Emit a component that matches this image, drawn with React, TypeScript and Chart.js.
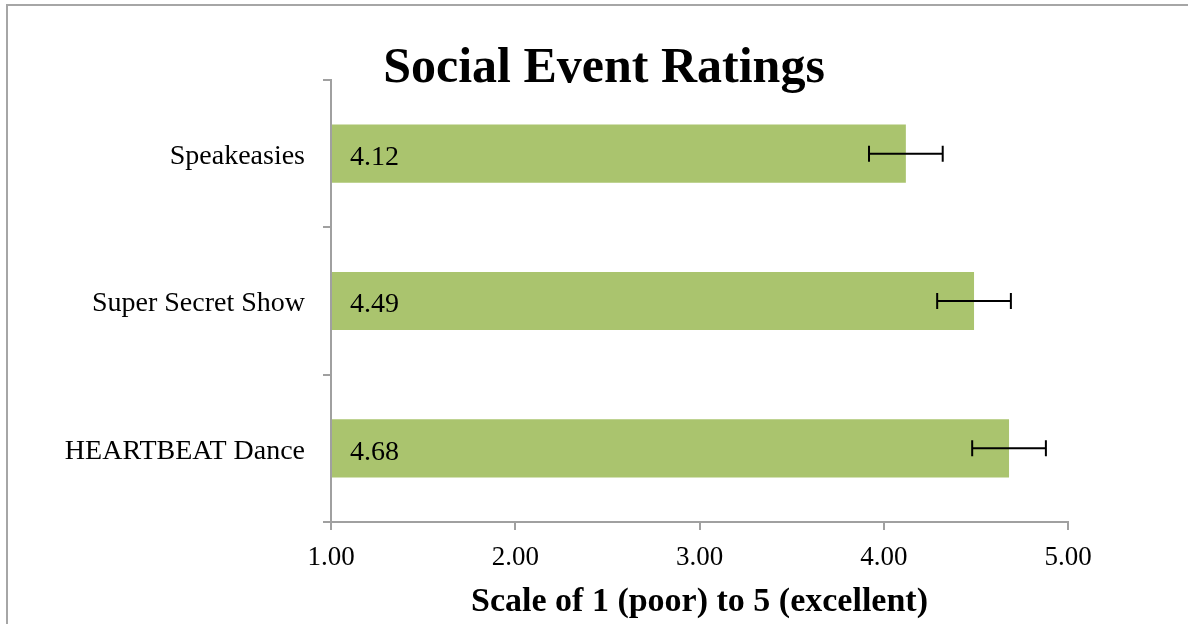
import React, { useEffect, useRef } from "react";
import { Chart, registerables } from "chart.js";

Chart.register(...registerables);

const categories = ["Speakeasies", "Super Secret Show", "HEARTBEAT Dance"];
const ratings = [4.12, 4.49, 4.68];
const errors = [0.2, 0.2, 0.2];
const xTicks = [1, 2, 3, 4, 5];
const titleText = "Social Event Ratings";
const xTitleText = "Scale of 1 (poor) to 5 (excellent)";

const SERIF = "'Liberation Serif', 'DejaVu Serif', serif";
const AXIS_GRAY = "#a0a0a0";
const BAR_GREEN = "#aac46e";

const decorPlugin = {
  id: "decor",
  beforeDraw(chart: any) {
    const ctx = chart.ctx;
    ctx.save();
    ctx.fillStyle = "#ffffff";
    ctx.fillRect(0, 0, chart.width, chart.height);
    ctx.fillStyle = "#a6a6a6";
    ctx.fillRect(6, 4, chart.width - 6, 2);
    ctx.fillRect(6, 4, 2, chart.height - 4);
    ctx.restore();
  },
  afterDraw(chart: any) {
    const ctx = chart.ctx;
    ctx.save();
    ctx.fillStyle = "#000";
    ctx.font = `bold 50px ${SERIF}`;
    ctx.textAlign = "center";
    ctx.textBaseline = "alphabetic";
    ctx.fillText(titleText, 604, 82);
    ctx.restore();
  },
};

const errorBarPlugin = {
  id: "errorBars",
  afterDatasetsDraw(chart: any) {
    const ctx = chart.ctx;
    const xs = chart.scales.x;
    const meta = chart.getDatasetMeta(0);
    ctx.save();
    meta.data.forEach((bar: any, i: number) => {
      const y = bar.y;
      // value label inside bar
      ctx.fillStyle = "#000";
      ctx.font = `28px ${SERIF}`;
      ctx.textAlign = "left";
      ctx.textBaseline = "middle";
      ctx.fillText(ratings[i].toFixed(2), xs.getPixelForValue(xTicks[0]) + 19, y + 4);
      // error bar
      const x1 = xs.getPixelForValue(ratings[i] - errors[i]);
      const x2 = xs.getPixelForValue(ratings[i] + errors[i]);
      ctx.strokeStyle = "#000";
      ctx.lineWidth = 2;
      ctx.beginPath();
      ctx.moveTo(x1, y);
      ctx.lineTo(x2, y);
      ctx.moveTo(x1, y - 8);
      ctx.lineTo(x1, y + 8);
      ctx.moveTo(x2, y - 8);
      ctx.lineTo(x2, y + 8);
      ctx.stroke();
    });
    ctx.restore();
  },
};

export default function App() {
  const canvasRef = useRef<HTMLCanvasElement | null>(null);

  useEffect(() => {
    document.body.style.margin = "0";
    const canvas = canvasRef.current;
    if (!canvas) return;
    const chart = new Chart(canvas, {
      type: "bar",
      data: {
        labels: categories,
        datasets: [
          {
            data: ratings,
            base: xTicks[0],
            backgroundColor: BAR_GREEN,
            borderWidth: 0,
            barPercentage: 0.395,
            categoryPercentage: 1,
          } as any,
        ],
      },
      options: {
        indexAxis: "y",
        responsive: false,
        animation: false,
        devicePixelRatio: 1,
        layout: { padding: { left: 0, right: 120, top: 80, bottom: 0 } },
        plugins: {
          legend: { display: false },
          title: { display: false },
          tooltip: { enabled: false },
        },
        scales: {
          x: {
            type: "linear",
            min: xTicks[0],
            max: xTicks[xTicks.length - 1],
            afterBuildTicks: (scale: any) => {
              scale.ticks = xTicks.map((v) => ({ value: v }));
            },
            afterFit: (scale: any) => {
              scale.height = 102;
            },
            ticks: {
              color: "#000",
              font: { family: SERIF, size: 27 },
              padding: 12,
              callback: (v: any) => Number(v).toFixed(2),
            },
            grid: {
              drawOnChartArea: false,
              drawTicks: true,
              tickLength: 8,
              color: AXIS_GRAY,
              lineWidth: 2,
            },
            border: { display: true, color: AXIS_GRAY, width: 2 },
            title: {
              display: true,
              text: xTitleText,
              color: "#000",
              font: { family: SERIF, size: 34, weight: "bold" },
              padding: { top: 0, bottom: 1 },
            },
          },
          y: {
            type: "category",
            offset: true,
            afterFit: (scale: any) => {
              scale.width = 331;
            },
            ticks: {
              color: "#000",
              font: { family: SERIF, size: 28 },
              padding: 18,
              labelOffset: 3,
            },
            grid: {
              offset: true,
              drawOnChartArea: false,
              drawTicks: true,
              tickLength: 8,
              color: AXIS_GRAY,
              lineWidth: 2,
            },
            border: { display: true, color: AXIS_GRAY, width: 2 },
          },
        },
      } as any,
      plugins: [decorPlugin, errorBarPlugin],
    });
    return () => chart.destroy();
  }, []);

  return (
    <div style={{ position: "fixed", left: 0, top: 0, width: 1188, height: 624, background: "#fff" }}>
      <canvas ref={canvasRef} width={1188} height={624} style={{ display: "block" }} />
    </div>
  );
}
